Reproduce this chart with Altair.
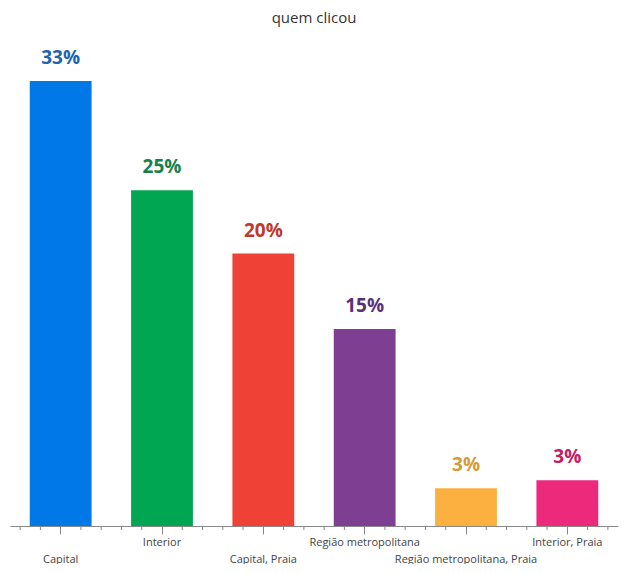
import altair as alt
import pandas as pd

categories = ["Capital", "Interior", "Capital, Praia", "Região metropolitana",
              "Região metropolitana, Praia", "Interior, Praia"]
values = [33.0, 24.9, 20.2, 14.6, 2.8, 3.4]

bar_colors = ["#0078E7", "#00A651", "#EF4136", "#7E3F93", "#FBB040", "#EC297B"]
label_colors = ["#1E63B0", "#16814A", "#C0392B", "#5E2F75", "#D49A3A", "#C22064"]

# minor tick positions in band units (5 ticks per band, center one is the axis tick)
minor_frac = [0.1, 0.3, 0.7, 0.9]
minor_ticks = [i + f for i in range(len(categories)) for f in minor_frac]

df = pd.DataFrame({"cat": categories, "val": values})
ticks_df = pd.DataFrame({"t": minor_ticks})

lower = ["Capital", "Capital, Praia", "Região metropolitana, Praia"]
lower_js = "[" + ",".join("'" + c + "'" for c in lower) + "]"

W, H = 608, 472

band_scale = alt.Scale(paddingInner=0.39, paddingOuter=0.195)

xband = alt.X(
    "cat:N",
    sort=categories,
    scale=band_scale,
    axis=alt.Axis(
        title=None,
        labelAngle=0,
        labelFont="Open Sans",
        labelFontSize=11,
        labelColor="#444444",
        labelLineHeight=17,
        labelPadding=2,
        labelExpr=f"indexof({lower_js}, datum.value) >= 0 ? ['', datum.label] : datum.label",
        tickSize=8,
        tickColor="#888888",
        domainColor="#888888",
        grid=False,
    ),
)

yscale = alt.Scale(domain=[0, 35])

bars = alt.Chart(df).mark_bar().encode(
    x=xband,
    y=alt.Y("val:Q", scale=yscale, axis=None),
    color=alt.Color("cat:N", scale=alt.Scale(domain=categories, range=bar_colors), legend=None),
)

texts = alt.Chart(df).transform_calculate(
    lbl="format(datum.val, '.0f') + '%'"
).mark_text(
    dy=-17, baseline="alphabetic", fontSize=19, fontWeight="bold", font="Open Sans"
).encode(
    x=alt.X("cat:N", sort=categories, scale=band_scale, axis=None),
    y=alt.Y("val:Q", scale=yscale, axis=None),
    text=alt.Text("lbl:N"),
    color=alt.Color("cat:N", scale=alt.Scale(domain=categories, range=label_colors), legend=None),
)

minor = alt.Chart(ticks_df).mark_rule(color="#888888", strokeWidth=1).encode(
    x=alt.X("t:Q", scale=alt.Scale(domain=[0, len(categories)], nice=False, zero=False), axis=None),
    y=alt.value(H),
    y2=alt.value(H + 4),
)

chart = (
    alt.layer(bars, texts, minor)
    .resolve_scale(x="independent", color="independent")
    .properties(
        width=W,
        height=H,
        title=alt.TitleParams(
            "quem clicou", font="Open Sans", fontSize=15, fontWeight="normal",
            color="#333333", offset=23, anchor="middle",
        ),
        padding={"left": 2, "right": 3, "top": 2, "bottom": 0},
    )
    .configure_view(stroke=None)
)

chart.save("out.html", embed_options={"renderer": "svg", "actions": False})
